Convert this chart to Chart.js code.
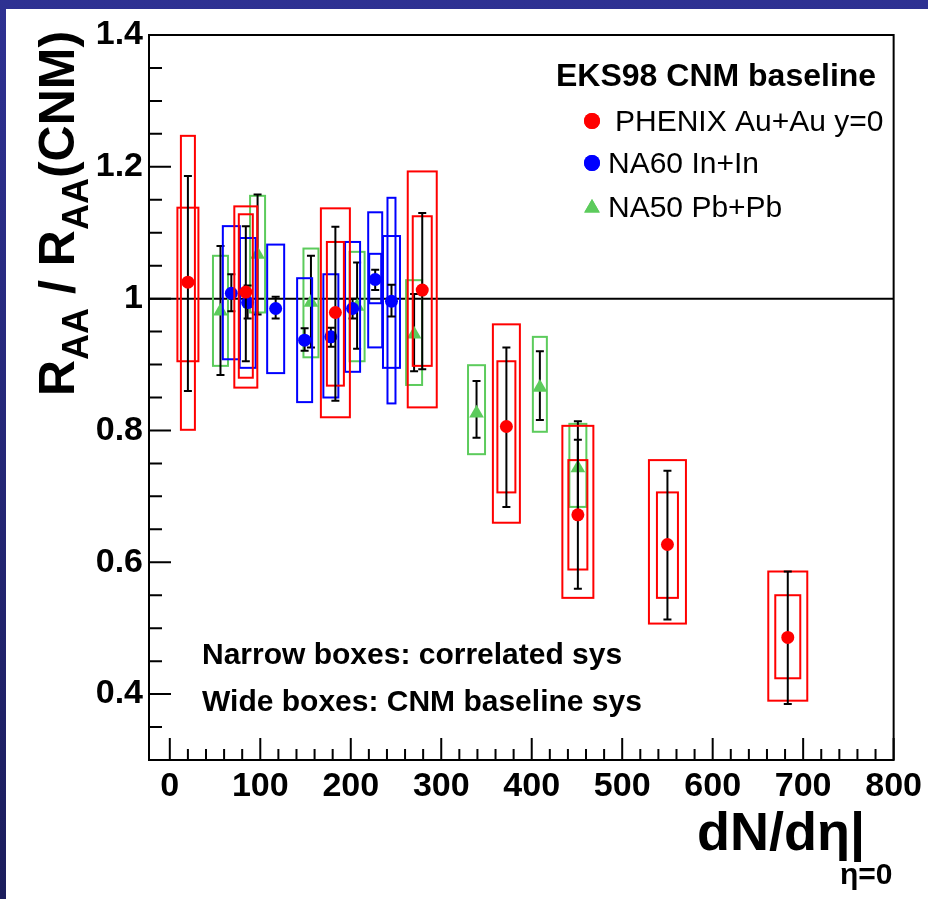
<!DOCTYPE html>
<html>
<head>
<meta charset="utf-8">
<script src="https://cdn.jsdelivr.net/npm/chart.js@4.4.1/dist/chart.umd.min.js"></script>
<style>
  html, body { margin: 0; padding: 0; }
  body { width: 928px; height: 899px; position: relative; overflow: hidden;
         background: linear-gradient(#2e3192, #1b1d5c); }
  #sheet { position: absolute; left: 6px; top: 9px; right: 0; bottom: 0; background: #fff; }
  #wrap { position: absolute; left: 0; top: 0; width: 928px; height: 899px; }
</style>
</head>
<body>
<div id="sheet"></div>
<div id="wrap"><canvas id="chart" width="928" height="899"></canvas></div>
<script>
// --- DATA ---
const xMajor = [0, 100, 200, 300, 400, 500, 600, 700, 800];
const xTickLabels = ['0', '100', '200', '300', '400', '500', '600', '700', '800'];
const yMajor = [0.4, 0.6, 0.8, 1.0, 1.2, 1.4];
const yTickLabels = ['0.4', '0.6', '0.8', '1', '1.2', '1.4'];

const seriesNames = ['PHENIX Au+Au y=0', 'NA60 In+In', 'NA50 Pb+Pb'];
const legendTitle = 'EKS98 CNM baseline';
const noteLines = ['Narrow boxes: correlated sys', 'Wide boxes: CNM baseline sys'];

// PHENIX Au+Au
const phenixX      = [20, 84, 183, 279, 372, 451, 550, 683];
const phenixY      = [1.025, 1.010, 0.979, 1.013, 0.806, 0.672, 0.627, 0.486];
const phenixStatLo = [0.860, 0.905, 0.845, 0.893, 0.684, 0.560, 0.513, 0.385];
const phenixStatHi = [1.186, 1.110, 1.109, 1.130, 0.926, 0.786, 0.739, 0.586];
const phenixCorrLo = [0.801, 0.880, 0.868, 0.898, 0.706, 0.589, 0.546, 0.424];
const phenixCorrHi = [1.247, 1.128, 1.086, 1.125, 0.905, 0.755, 0.706, 0.550];
const phenixCnmLo  = [0.905, 0.865, 0.820, 0.835, 0.660, 0.546, 0.507, 0.390];
const phenixCnmHi  = [1.138, 1.140, 1.137, 1.193, 0.961, 0.807, 0.755, 0.586];

// NA60 In+In
const na60X      = [68, 86, 117, 149, 178, 202, 227, 245];
const na60Y      = [1.008, 0.994, 0.985, 0.937, 0.942, 0.985, 1.029, 0.996];
const na60StatLo = [0.981, 0.970, 0.970, 0.921, 0.927, 0.970, 1.013, 0.973];
const na60StatHi = [1.037, 1.020, 1.003, 0.955, 0.956, 1.000, 1.044, 1.021];
const na60CorrLo = [null, null, null, null, null, null, 0.993, 0.841];
const na60CorrHi = [null, null, null, null, null, null, 1.068, 1.153];
const na60CnmLo  = [0.908, 0.895, 0.887, 0.843, 0.850, 0.889, 0.926, 0.895];
const na60CnmHi  = [1.110, 1.092, 1.082, 1.031, 1.037, 1.086, 1.131, 1.095];

// NA50 Pb+Pb
const na50X      = [56, 97, 156, 207, 270, 339, 409, 451];
const na50Y      = [0.981, 1.067, 0.994, 0.988, 0.946, 0.826, 0.865, 0.743];
const na50StatLo = [0.884, 0.976, 0.926, 0.924, 0.890, 0.789, 0.816, 0.672];
const na50StatHi = [1.080, 1.158, 1.065, 1.055, 1.007, 0.875, 0.920, 0.814];
const na50CnmLo  = [0.898, 0.979, 0.911, 0.905, 0.869, 0.764, 0.798, 0.684];
const na50CnmHi  = [1.065, 1.156, 1.076, 1.071, 1.028, 0.899, 0.942, 0.810];

// --- STYLE ---
const RED = '#ff0000', BLUE = '#0000ff', GREEN = '#5ccb5c';
const FONT = '"Liberation Sans", Arial, Helvetica, sans-serif';
// box widths in pixels (narrow = correlated, wide = CNM)
const phenixNarrowW = [14, 14, 17, 19, 18, 19, 21, 25];
const phenixWideW   = [21, 23, 29, 29, 27, 31, 37, 39];
const na60NarrowW   = [0, 0, 0, 0, 0, 0, 12, 8];
const na60WideW     = [17, 16, 17, 15, 15, 15, 14, 17];
const na50WideW     = [15, 15, 15, 15, 16, 17, 14, 17];

function pts(xs, ys) { return xs.map((x, i) => ({ x: x, y: ys[i] })); }

// --- PLUGINS ---
function drawBox(ctx, ys, px, lo, hi, w, color) {
    if (lo == null || hi == null || !w) return;
    const y1 = ys.getPixelForValue(hi), y2 = ys.getPixelForValue(lo);
    ctx.strokeStyle = color;
    ctx.lineWidth = 2;
    ctx.strokeRect(px - w / 2, y1, w, y2 - y1);
}

const errorBoxes = {
    id: 'errorBoxes',
    beforeDatasetDraw(chart, args) {
        const ds = chart.data.datasets[args.index];
        const ys = chart.scales.y;
        const ctx = chart.ctx;
        const a = chart.chartArea;
        ctx.save();
        ctx.beginPath();
        ctx.rect(a.left, a.top, a.right - a.left, a.bottom - a.top);
        ctx.clip();
        args.meta.data.forEach((pt, i) => {
            const px = pt.x;
            drawBox(ctx, ys, px, ds.wideLo[i], ds.wideHi[i], ds.wideW[i], ds.borderColor);
            if (ds.narrowLo) drawBox(ctx, ys, px, ds.narrowLo[i], ds.narrowHi[i], ds.narrowW[i], ds.borderColor);
            const y1 = ys.getPixelForValue(ds.statHi[i]);
            const y2 = ys.getPixelForValue(ds.statLo[i]);
            ctx.strokeStyle = '#000';
            ctx.lineWidth = 2;
            ctx.beginPath();
            ctx.moveTo(px, y1); ctx.lineTo(px, y2);
            ctx.moveTo(px - 4, y1); ctx.lineTo(px + 4, y1);
            ctx.moveTo(px - 4, y2); ctx.lineTo(px + 4, y2);
            ctx.stroke();
        });
        ctx.restore();
    }
};

const rootFrame = {
    id: 'rootFrame',
    beforeDatasetsDraw(chart) {
        const ctx = chart.ctx, a = chart.chartArea;
        const xs = chart.scales.x, ys = chart.scales.y;
        ctx.save();
        ctx.strokeStyle = '#000';
        ctx.lineWidth = 2;
        // reference line at 1
        const y1 = ys.getPixelForValue(1);
        ctx.beginPath();
        ctx.moveTo(a.left, y1); ctx.lineTo(a.right, y1);
        ctx.stroke();
        // frame
        ctx.strokeRect(a.left, a.top, a.right - a.left, a.bottom - a.top);
        // inward ticks
        ctx.beginPath();
        ys.ticks.forEach(t => {
            const k = Math.round(t.value * 100);
            if (k % 5 !== 0) return;
            const len = (k % 20 === 0) ? 22 : 13;
            const py = ys.getPixelForValue(t.value);
            ctx.moveTo(a.left, py); ctx.lineTo(a.left + len, py);
        });
        xs.ticks.forEach(t => {
            const v = Math.round(t.value);
            if (v < 0 || v % 20 !== 0) return;
            const len = (v % 100 === 0) ? 22 : 11;
            const px = xs.getPixelForValue(t.value);
            ctx.moveTo(px, a.bottom); ctx.lineTo(px, a.bottom - len);
        });
        ctx.stroke();
        ctx.restore();
    },
    afterDraw(chart) {
        const ctx = chart.ctx;
        ctx.save();
        ctx.fillStyle = '#000';
        ctx.textBaseline = 'alphabetic';
        ctx.textAlign = 'left';

        // legend
        ctx.font = 'bold 32px ' + FONT;
        ctx.fillText(legendTitle, 556, 86);
        const legY = [121, 163, 207];
        const legX = [615, 608, 608];
        ctx.font = '30px ' + FONT;
        chart.data.datasets.forEach((ds, i) => {
            ctx.fillStyle = ds.backgroundColor;
            ctx.strokeStyle = ds.backgroundColor;
            const tri = ds.pointStyle === 'triangle';
            Chart.helpers.drawPoint(ctx, { pointStyle: ds.pointStyle, radius: tri ? 9 : 8, rotation: 0, borderWidth: 0 }, 592, legY[i] + (tri ? 1 : 0));
            ctx.fill();
            ctx.fillStyle = '#000';
            ctx.fillText(seriesNames[i], legX[i], legY[i] + 10);
        });

        // notes
        ctx.font = 'bold 30px ' + FONT;
        ctx.fillText(noteLines[0], 202, 664);
        ctx.fillText(noteLines[1], 202, 711);

        // x title
        ctx.font = 'bold 54px ' + FONT;
        ctx.fillText('dN/d\u03b7|', 697, 850);
        ctx.font = 'bold 30px ' + FONT;
        ctx.fillText('\u03b7=0', 840, 884);

        // y title (rotated)
        ctx.translate(74, 396);
        ctx.rotate(-Math.PI / 2);
        let x = 0;
        const big = 'bold 50px ' + FONT, sub = 'bold 36px ' + FONT;
        const parts = [['R', big, 0], ['AA', sub, 14], [' / ', big, 0], ['R', big, 0], ['AA', sub, 14], ['(CNM)', big, 0]];
        parts.forEach(p => {
            ctx.font = p[1];
            ctx.fillText(p[0], x, p[2]);
            x += ctx.measureText(p[0]).width;
        });
        ctx.restore();
    }
};

// --- CHART ---
new Chart(document.getElementById('chart'), {
    type: 'scatter',
    data: {
        datasets: [
            { label: seriesNames[0], data: pts(phenixX, phenixY), pointStyle: 'circle', pointRadius: 6.5,
              backgroundColor: RED, borderColor: RED, pointBorderWidth: 0,
              statLo: phenixStatLo, statHi: phenixStatHi, narrowLo: phenixCorrLo, narrowHi: phenixCorrHi,
              wideLo: phenixCnmLo, wideHi: phenixCnmHi, narrowW: phenixNarrowW, wideW: phenixWideW },
            { label: seriesNames[1], data: pts(na60X, na60Y), pointStyle: 'circle', pointRadius: 6.5,
              backgroundColor: BLUE, borderColor: BLUE, pointBorderWidth: 0,
              statLo: na60StatLo, statHi: na60StatHi, narrowLo: na60CorrLo, narrowHi: na60CorrHi,
              wideLo: na60CnmLo, wideHi: na60CnmHi, narrowW: na60NarrowW, wideW: na60WideW },
            { label: seriesNames[2], data: pts(na50X, na50Y), pointStyle: 'triangle', pointRadius: 8.5,
              backgroundColor: GREEN, borderColor: GREEN, pointBorderWidth: 0,
              statLo: na50StatLo, statHi: na50StatHi,
              wideLo: na50CnmLo, wideHi: na50CnmHi, wideW: na50WideW }
        ]
    },
    options: {
        responsive: false,
        animation: false,
        devicePixelRatio: 1,
        layout: { padding: { top: 35, right: 31, left: 0, bottom: 0 } },
        plugins: { legend: { display: false }, tooltip: { enabled: false } },
        scales: {
            x: {
                type: 'linear', min: -23, max: 800,
                grid: { display: false, drawTicks: false },
                border: { display: false },
                afterFit: s => { s.height = 139; },
                ticks: {
                    stepSize: 20, autoSkip: false, maxRotation: 0, padding: 6,
                    color: '#000', font: { family: FONT, size: 34, weight: 'bold' },
                    callback: v => {
                        const i = xMajor.indexOf(Math.round(v));
                        return (i >= 0 && Math.abs(v - xMajor[i]) < 1e-6) ? xTickLabels[i] : '';
                    }
                }
            },
            y: {
                type: 'linear', min: 0.3, max: 1.4,
                grid: { display: false, drawTicks: false },
                border: { display: false },
                afterFit: s => { s.width = 149; },
                ticks: {
                    stepSize: 0.05, autoSkip: false, padding: 6,
                    color: '#000', font: { family: FONT, size: 34, weight: 'bold' },
                    callback: v => {
                        const i = yMajor.findIndex(m => Math.abs(m - v) < 1e-6);
                        return i >= 0 ? yTickLabels[i] : '';
                    }
                }
            }
        }
    },
    plugins: [rootFrame, errorBoxes]
});
</script>
</body>
</html>
